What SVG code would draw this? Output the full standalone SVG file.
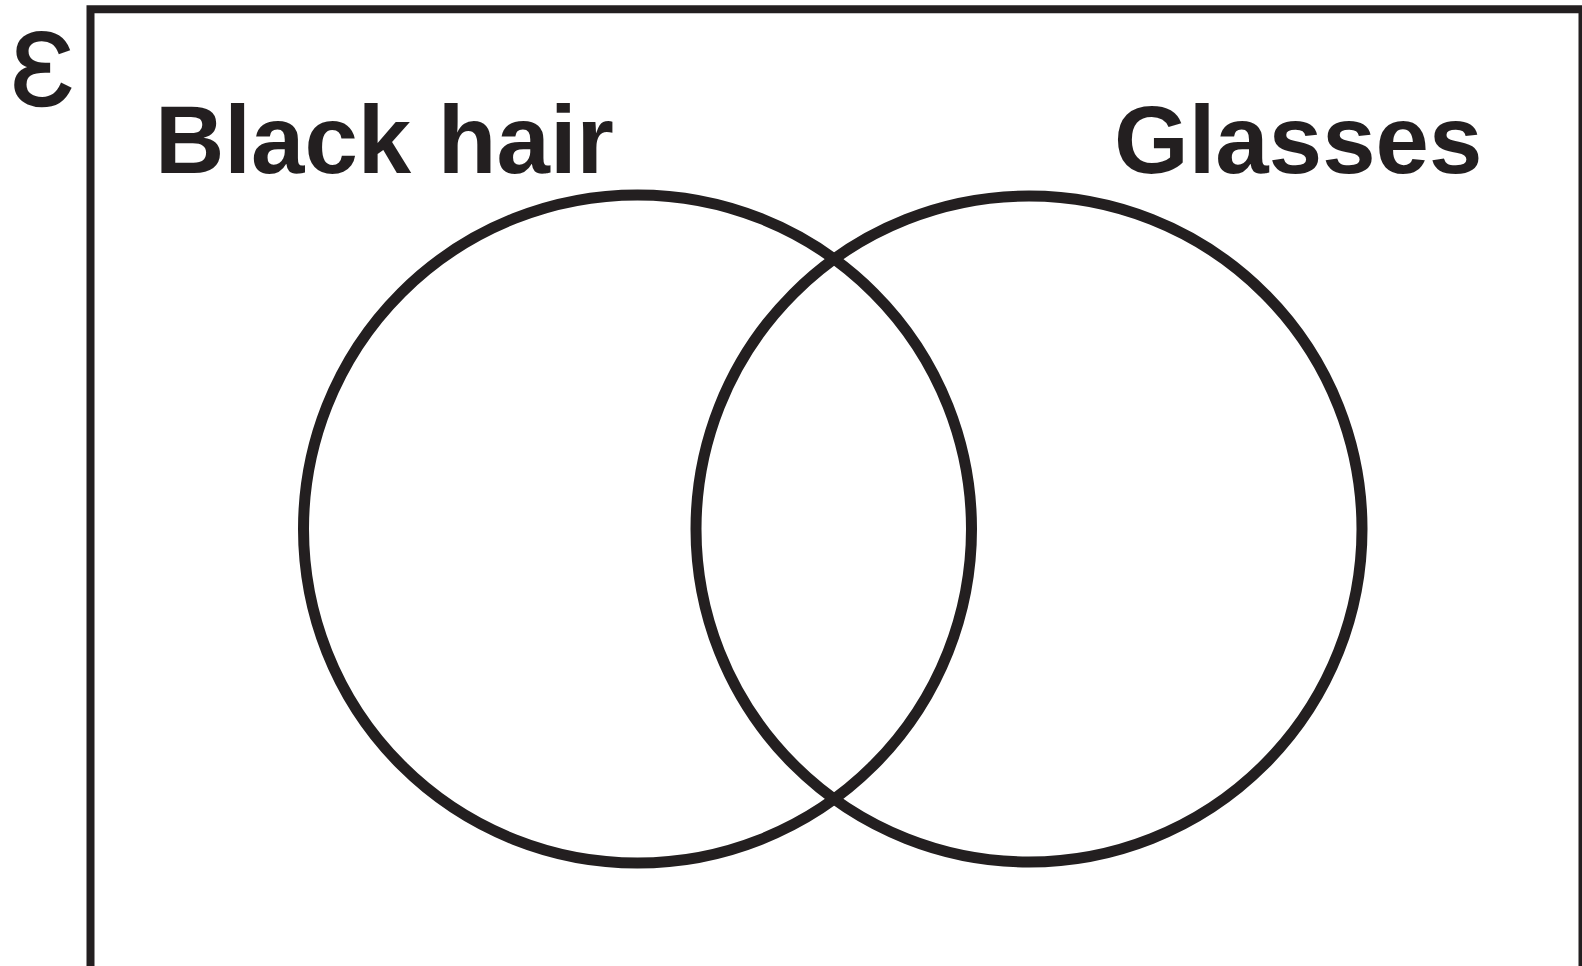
<svg xmlns="http://www.w3.org/2000/svg" width="1582" height="966" viewBox="0 0 1582 966">
<style>
.ln{fill:none;stroke:#231f20}
.lbl{font-family:"Liberation Sans",Arial,sans-serif;font-weight:bold;font-size:96px;fill:#231f20}
</style>
<rect width="1582" height="966" fill="#fff"/>
<g id="universe">
<path class="ln" stroke-width="8" d="M90.5 980 V9.3 H1582.5 V980"/>
<text x="11" y="105" style="font-family:'Liberation Sans',Arial,sans-serif;font-size:104px;fill:#231f20;stroke:#231f20;stroke-width:2.5">Ɛ</text>
</g>
<g id="black-hair">
<circle class="ln" stroke-width="11" cx="637.5" cy="529" r="334"/>
<text class="lbl" x="155" y="172.5">Black hair</text>
</g>
<g id="glasses">
<circle class="ln" stroke-width="11" cx="1029" cy="529" r="333"/>
<text class="lbl" x="1114" y="172.5">Glasses</text>
</g>
<g id="connectors"/>
</svg>
